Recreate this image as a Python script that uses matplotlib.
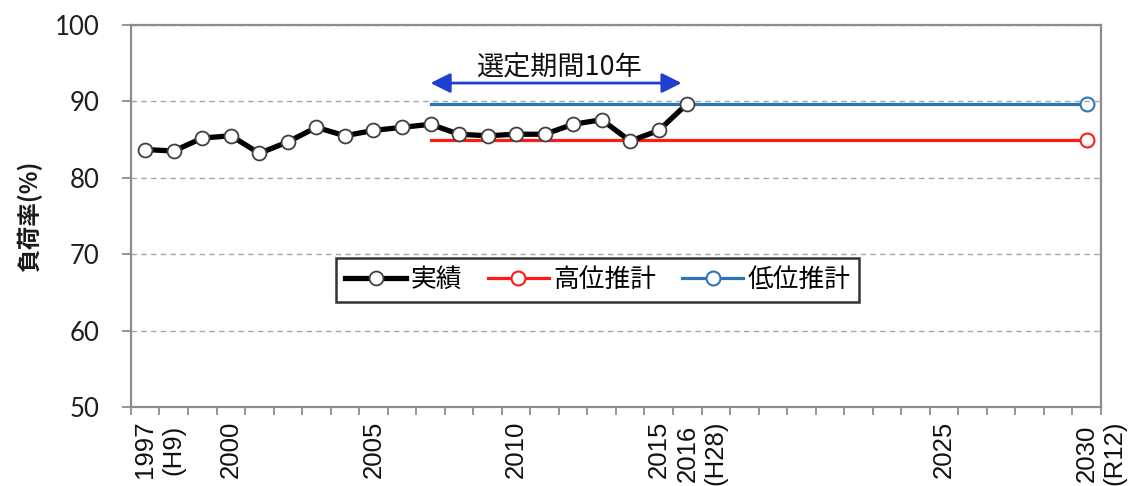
import matplotlib.pyplot as plt
from matplotlib.transforms import ScaledTranslation

plt.rcParams["font.family"] = ["Liberation Sans", "Noto Sans CJK JP"]

# カテゴリ(年)
years = list(range(1997, 2031))
# 負荷率の実績
actual_years = list(range(1997, 2017))
actual_rate = [83.7, 83.5, 85.2, 85.5, 83.2, 84.7, 86.6, 85.5, 86.2, 86.6,
               87.0, 85.7, 85.5, 85.7, 85.7, 87.0, 87.6, 84.8, 86.2, 89.7]
# 推計値(2007年から2030年まで)
proj_years = [2007, 2030]
high_rate = [84.9, 84.9]
low_rate = [89.7, 89.7]
# 選定期間
period_years = [2007, 2016]
period_label = "選定期間10年"
# x軸のラベル
tick_years = [1997, 2000, 2005, 2010, 2015, 2016, 2025, 2030]
tick_labels = ["1997\n(H9)", "2000", "2005", "2010", "2015",
               "2016\n(H28)", "2025", "2030\n(R12)"]


def pos(ys):
    return [years.index(y) for y in ys]


fig = plt.figure(figsize=(11.3, 4.86), dpi=100)
ax = fig.add_axes([0.1159, 0.1626, 0.8584, 0.786])

grid_c = "#a6a6a6"
spine_c = "#8c8c8c"

# 推計線
l_low, = ax.plot(pos(proj_years), low_rate, color="#2e75b6", lw=2.3,
                 marker="o", ms=10, mfc="white", mec="#2e75b6", mew=1.5,
                 markevery=[1], zorder=1)
l_high, = ax.plot(pos(proj_years), high_rate, color="#ff1a1a", lw=2.3,
                  marker="o", ms=10, mfc="white", mec="#ff1a1a", mew=1.5,
                  markevery=[1], zorder=2)
# 実績
l_act, = ax.plot(pos(actual_years), actual_rate, color="black", lw=3.8,
                 marker="o", ms=10, mfc="white", mec="#404040", mew=1.3,
                 zorder=3)

# 軸範囲
ax.set_xlim(-0.5, len(years) - 0.5)
ax.set_ylim(50, 100)

# 目盛
ax.set_yticks(range(50, 101, 10))
ax.set_xticks(pos(tick_years))
ax.set_xticklabels(tick_labels, rotation=90, va="top", ha="center",
                   multialignment="center", fontsize=18.5, color="#111111")
ax.set_xticks([i - 0.5 for i in range(len(years) + 1)], minor=True)
ax.tick_params(axis="x", which="major", length=0, pad=10)
ax.tick_params(axis="x", which="minor", length=6, width=1.3, color=spine_c)
ax.tick_params(axis="y", length=6.5, width=1.3, color=spine_c, pad=16,
               labelsize=18.5, labelcolor="#1e1e1e")
for lab in ax.get_yticklabels():
    lab.set_family("Lato")
# 2行ラベルは1行目を目盛位置に合わせる
shift = ScaledTranslation(14 / 100, 0, fig.dpi_scale_trans)
for lab in ax.get_xticklabels():
    if "\n" in lab.get_text():
        lab.set_transform(lab.get_transform() + shift)

# 枠線
for s in ax.spines.values():
    s.set_color(spine_c)
    s.set_linewidth(1.6)

# グリッド
ax.set_axisbelow("line")
ax.yaxis.grid(True, ls=(0, (4, 3)), color=grid_c, lw=1.0)

# y軸ラベル
ax.set_ylabel("負荷率(%)", family=["Noto Sans CJK JP"], fontsize=17,
              fontweight="bold", color="#1a1a1a")
ax.yaxis.set_label_coords(-0.091, 0.5)

# 選定期間の矢印
x0, x1 = pos(period_years)
ax.annotate("", xy=(x1 - 0.2, 92.4), xytext=(x0, 92.4),
            arrowprops=dict(arrowstyle="<|-|>,head_length=0.6,head_width=0.3",
                            color="#1f3fd0", lw=2.0, shrinkA=0, shrinkB=0,
                            mutation_scale=20),
            zorder=4)
ax.text((x0 + x1) / 2, 94.5, period_label, ha="center", va="center",
        fontsize=19.5, family=["Noto Sans CJK JP"], color="#111111")

# 凡例
leg = ax.legend([l_act, l_high, l_low], ["実績", "高位推計", "低位推計"],
                loc="center", bbox_to_anchor=(0.481, 0.333), ncol=3,
                prop=dict(family=["Noto Sans CJK JP"], size=18.5),
                frameon=True, fancybox=False, edgecolor="black",
                handlelength=2.4, handletextpad=0.15, columnspacing=1.0,
                borderpad=0.35, numpoints=1)
leg.get_frame().set_linewidth(1.8)
leg.set_zorder(5)

fig.savefig("out.png", dpi=100)
